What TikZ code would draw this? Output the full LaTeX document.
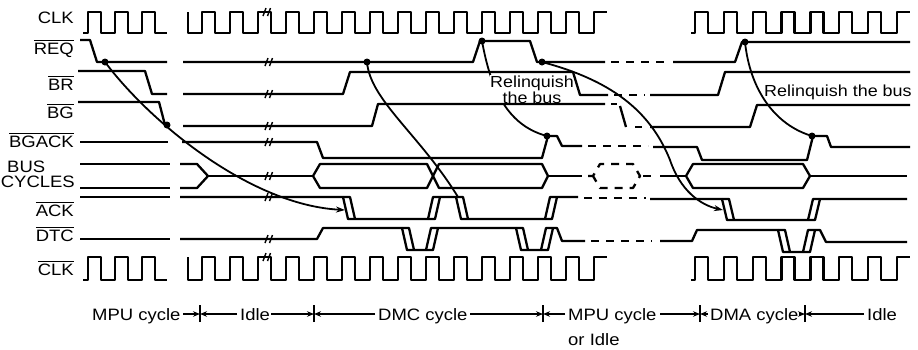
\documentclass[tikz,border=0pt]{standalone}
\usepackage{fontspec}
\setmainfont{Liberation Sans}[FakeStretch=1.12]
\usetikzlibrary{arrows.meta}
\newcommand\ovl[1]{\leavevmode\vbox{\hrule height 1.3pt\kern 1.6pt\hbox{#1}}}
\newcommand\brkm[2]{\draw[brkst] ({#1-3},{#2+4}) -- ({#1},{#2-4}) ({#1+1.5},{#2+4}) -- ({#1+4.5},{#2-4});}
\newcommand\dfall[3]{\draw[sig] (#1,#2) -- ({#1+7},#2) -- ({#1+12},#3);}
\newcommand\drise[3]{\draw[sig] (#1,#3) -- ({#1+7},#3) -- ({#1+12},#2);}
\newcommand\clocks[2]{%
  \draw[clk] (83,#2) -- (88,#2) -- (88,#1) -- (101,#1) -- (101,#2) -- (115,#2) -- (115,#1) -- (128,#1) -- (128,#2) -- (142,#2) -- (142,#1) -- (155,#1) -- (155,#2) -- (167,#2);
  \draw[clk] (188,#1) -- (188,#2) \foreach \k in {0,...,13} { -- ({202+28*\k},#2) -- ({202+28*\k},#1) -- ({215+28*\k},#1) -- ({215+28*\k},#2) } -- (594,#2) -- (594,#1) -- (607,#1);
  \draw[clk] (691,#2) \foreach \k in {0,...,6} { -- ({695+28.85*\k},#2) -- ({695+28.85*\k},#1) -- ({708+28.85*\k},#1) -- ({708+28.85*\k},#2) } -- (897,#2) -- (897,#1) -- (910,#1);
}
\begin{document}
\begin{tikzpicture}[x=1pt,y=-1pt,line join=round,
  sig/.style={line width=2.3pt},
  clk/.style={line width=2.4pt},
  cause/.style={line width=1.8pt},
  dsh/.style={line width=2.3pt,dash pattern=on 8pt off 7pt},
  dotm/.style={circle,fill,inner sep=0pt,minimum size=7pt},
  lab/.style={font=\fontsize{16.5}{16}\selectfont,inner sep=0pt},
  brkst/.style={line width=1.4pt},
  tickst/.style={line width=1.5pt},
  span/.style={line width=1.3pt,-{Stealth[length=7pt,width=5.5pt]}},
  cau/.style={-{Stealth[length=9pt,width=6pt]}}]
\useasboundingbox (0,0) rectangle (918,349);

% dots and arrow ends
\node[dotm] (d1) at (105,62) {};
\node[dotm] (d2) at (367,62) {};
\node[dotm] (d3) at (482,41) {};
\node[dotm] (d4) at (542,62) {};
\node[dotm] (d5) at (745,42) {};
\node[dotm] (d6) at (547,136) {};
\node[dotm] (d7) at (812,136) {};
\node[dotm] (d8) at (167,125) {};
\coordinate (a1) at (345,210);
\coordinate (a2) at (723,210);
\coordinate (e2) at (458,197);
\coordinate (m4) at (670,160);

% cause curves
\draw[cause,cau] (d1.center) .. controls (150,122) and (250,205) .. (a1);
\draw[cause] (d2.center) .. controls (370,100) and (420,135) .. (e2);
\draw[cause] (d3.center) .. controls (490,85) and (505,125) .. (d6.center);
\draw[cause,cau] (d4.center) .. controls (610,80) and (650,110) .. (m4) .. controls (680,190) and (700,205) .. (a2);
\draw[cause] (d5.center) .. controls (750,90) and (775,125) .. (d7.center);

% texts
\node[lab,fill=white,inner sep=0.3pt,align=center,font=\fontsize{16}{13.5}\selectfont] (rel1) at (532,89.5) {Relinquish\\the bus};
\node[lab,anchor=base west,font=\fontsize{16}{16}\selectfont] (rel3) at (764,96) {Relinquish the bus};

\node[lab,anchor=base east] (lclk) at (74,23) {CLK};
\node[lab,anchor=base east] (lreq) at (74,54) {\ovl{REQ}};
\node[lab,anchor=base east] (lbr) at (74,90) {\ovl{BR}};
\node[lab,anchor=base east] (lbg) at (74,118) {\ovl{BG}};
\node[lab,anchor=base east] (lbgack) at (74,147) {\ovl{BGACK}};
\node[lab,anchor=base west] (lbus) at (7,172) {BUS};
\node[lab,anchor=base east] (lcyc) at (75,187.5) {CYCLES};
\node[lab,anchor=base east] (lack) at (74,216) {\ovl{ACK}};
\node[lab,anchor=base east] (ldtc) at (74,241) {\ovl{DTC}};
\node[lab,anchor=base east] (lclkb) at (74,275) {\ovl{CLK}};

\node[lab,anchor=base west] (bmpu) at (92,320) {MPU cycle};
\node[lab,anchor=base west] (bidle) at (240,320) {Idle};
\node[lab,anchor=base west] (bdmc) at (378,320) {DMC cycle};
\node[lab,anchor=base west] (bmpu2) at (568,320) {MPU cycle};
\node[lab,anchor=base west] (bor) at (568,345) {or Idle};
\node[lab,anchor=base west] (bdma) at (710,320) {DMA cycle};
\node[lab,anchor=base west] (bidle2) at (867,320) {Idle};

% clocks
\clocks{12}{33}
\clocks{257}{280}

% REQ
\draw[sig] (80,40) -- (90,40) -- (97,62) -- (167,62);
\draw[sig] (183,62) -- (473,62) -- (480,41) -- (530,41) -- (537,62) -- (605,62);
\draw[dsh] (611,62) -- (668,62);
\draw[sig] (673,62) -- (735,62) -- (742,42) -- (910,42);

% BR
\draw[sig] (78,71) -- (145,71) -- (152,94) -- (167,94);
\draw[sig] (183,94) -- (343,94) -- (350,72) -- (573,72) -- (580,95) -- (608,95);
\draw[dsh] (614,95) -- (645,95);
\draw[sig] (650,95) -- (718,95) -- (725,72) -- (910,72);

% BG
\draw[sig] (78,102) -- (159,102) -- (165,125) -- (168,125);
\draw[sig] (183,126) -- (372,126) -- (378,104) -- (605,104);
\draw[sig] (611,104) -- (617,104);
\draw[sig] (620,106) -- (626,127);
\draw[sig] (635,127) -- (642,127);
\draw[sig] (650,127) -- (750,127) -- (757,105) -- (910,105);

% BGACK
\draw[sig] (80,142) -- (168,142);
\draw[sig] (182,142) -- (317,142) -- (323,158) -- (542,158) -- (548,136) -- (557,136) -- (562,146) -- (582,146);
\draw[dsh] (588,146) -- (648,146);
\draw[sig] (653,147) -- (697,147) -- (702,160) -- (807,160) -- (813,136) -- (827,136) -- (831,147) -- (910,147);

% BUS CYCLES
\draw[sig] (80,164) -- (170,164);
\draw[sig] (80,188) -- (170,188);
\draw[sig] (180,164) -- (197,164) -- (208,176) -- (197,188) -- (180,188);
\draw[sig] (208,176) -- (313,176);
\draw[sig] (313,176) -- (320,164) -- (427,164) -- (433,176) -- (427,188) -- (320,188) -- cycle;
\draw[sig] (433,176) -- (439,164) -- (542,164) -- (548,176) -- (542,188) -- (439,188) -- cycle;
\draw[sig] (548,176) -- (582,176);
\draw[dsh] (588,176) -- (593,176) -- (600,164) -- (633,164) -- (640,176) -- (633,188) -- (600,188) -- (593,176);
\draw[dsh] (643,176) -- (655,176);
\draw[sig] (660,176) -- (686,176);
\draw[sig] (686,176) -- (693,164) -- (803,164) -- (810,176) -- (803,188) -- (693,188) -- cycle;
\draw[sig] (810,176) -- (907,176);

% ACK
\draw[sig] (80,197) -- (170,197);
\draw[sig] (180,197) -- (343,197) -- (348,219) -- (428,219) -- (433,197) -- (456,197) -- (461,219) -- (545,219) -- (550,197) -- (578,197);
\dfall{343}{197}{219} \drise{428}{197}{219} \dfall{456}{197}{219} \drise{545}{197}{219}
\draw[dsh] (584,198) -- (646,198);
\draw[sig] (650,199) -- (722,199) -- (727,220) -- (808,220) -- (813,199) -- (907,199);
\dfall{722}{199}{220} \drise{808}{199}{220}

% DTC
\draw[sig] (80,239) -- (170,239);
\draw[sig] (180,239) -- (317,239) -- (323,228) -- (402,228) -- (407,250) -- (426,250) -- (431,228) -- (516,228) -- (521,250) -- (541,250) -- (546,228) -- (557,228) -- (562,241) -- (585,241);
\dfall{402}{228}{250} \drise{426}{228}{250} \dfall{516}{228}{250} \drise{541}{228}{250}
\draw[dsh] (591,241) -- (652,241);
\draw[sig] (660,241) -- (692,241) -- (697,230) -- (778,230) -- (783,252) -- (803,252) -- (808,230) -- (820,230) -- (826,242) -- (907,242);
\dfall{778}{230}{252} \drise{803}{230}{252}

% break marks
\brkm{268}{62} \brkm{268}{94} \brkm{268}{126} \brkm{268}{142}
\brkm{268}{176} \brkm{268}{197} \brkm{268}{239}
\brkm{266}{12} \brkm{266}{257}

% bottom spans
\coordinate (t1) at (200,314);
\coordinate (t2) at (314,314);
\coordinate (t3) at (543,314);
\coordinate (t4) at (700,314);
\coordinate (t5) at (805,314);
\foreach \t in {t1,t2,t3,t4,t5} \draw[tickst] ([yshift=-8pt]\t) -- ([yshift=9pt]\t);
\coordinate (s1) at (183,314); \coordinate (s2) at (237,314);
\coordinate (s3) at (271,314); \coordinate (s4) at (375,314);
\coordinate (s5) at (470,314); \coordinate (s6) at (565,314);
\coordinate (s7) at (660,314); \coordinate (s8) at (708,314);
\coordinate (s9) at (799,314); \coordinate (s10) at (864,314);
\draw[span] (s1) -- (t1); \draw[span] (s2) -- (t1);
\draw[span] (s3) -- (t2); \draw[span] (s4) -- (t2);
\draw[span] (s5) -- (t3); \draw[span] (s6) -- (t3);
\draw[span] (s7) -- (t4); \draw[span] (s8) -- (t4);
\draw[span] (s9) -- (t5); \draw[span] (s10) -- (t5);
\end{tikzpicture}
\end{document}
